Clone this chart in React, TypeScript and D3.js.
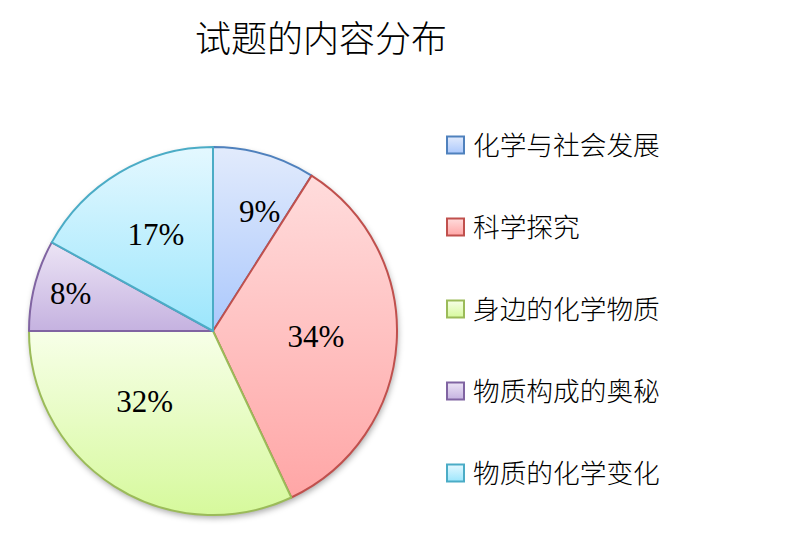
import React from "react";
import * as d3 from "d3";

const categories = ["化学与社会发展", "科学探究", "身边的化学物质", "物质构成的奥秘", "物质的化学变化"];
const values = [9, 34, 32, 8, 17];
const labels = ["9%", "34%", "32%", "8%", "17%"];
const title = "试题的内容分布";

const strokeColors = ["#4f81bd", "#c0504d", "#9bbb59", "#8064a2", "#4bacc6"];
const gradTop = ["#e2ebfc", "#ffdcdc", "#f7ffe8", "#ece4f5", "#e4f8ff"];
const gradBottom = ["#abc8fc", "#ffa6a6", "#d6f99c", "#c5b2e0", "#9ce6fc"];
// layout: label placement radius factors (of pie radius) and angle shifts (deg)
const labelRadiusFactor = [0.7, 0.56, 0.53, 0.8, 0.61];
const labelAngleShift = [5, -0.5, 12, 0.5, 0];

const W = 798;
const H = 541;
const cx = 213;
const cy = 331;
const R = 184;

export default function App() {
  const pie = d3.pie<number>().sort(null).value((d) => d);
  const arcs = pie(values);
  const arcGen = d3.arc<d3.PieArcDatum<number>>().innerRadius(0).outerRadius(R);

  const legendY = d3.scalePoint<string>().domain(categories).range([145, 473]);

  return (
    <svg width={W} height={H} style={{ position: "absolute", left: 0, top: 0 }}>
      <defs>
        {arcs.map((_, i) => (
          <linearGradient key={i} id={`g${i}`} x1="0" y1="0" x2="0" y2="1">
            <stop offset="0" stopColor={gradTop[i]} />
            <stop offset="1" stopColor={gradBottom[i]} />
          </linearGradient>
        ))}
        <filter id="shadow" x="-20%" y="-20%" width="140%" height="140%">
          <feDropShadow dx="1" dy="3" stdDeviation="3" floodColor="#000" floodOpacity="0.35" />
        </filter>
      </defs>
      <rect width={W} height={H} fill="#fff" />
      <text
        x={321}
        y={52}
        textAnchor="middle"
        fontFamily="'Noto Sans CJK SC', sans-serif"
        fontSize={36}
        fontWeight={300}
        fill="#000"
      >
        {title}
      </text>
      <g transform={`translate(${cx},${cy})`}>
        <circle r={R} fill="#fff" filter="url(#shadow)" />
        {arcs.map((a, i) => (
          <path
            key={i}
            d={arcGen(a) || ""}
            fill={`url(#g${i})`}
            stroke={strokeColors[i]}
            strokeWidth={2}
            strokeLinejoin="round"
          />
        ))}
        {arcs.map((a, i) => {
          const mid = (a.startAngle + a.endAngle) / 2 + (labelAngleShift[i] * Math.PI) / 180;
          const r = R * labelRadiusFactor[i];
          const x = Math.sin(mid) * r;
          const y = -Math.cos(mid) * r;
          return (
            <text
              key={i}
              x={x}
              y={y}
              dy="0.35em"
              textAnchor="middle"
              fontFamily="'Liberation Serif', 'Times New Roman', serif"
              fontSize={31}
              fill="#000"
            >
              {labels[i]}
            </text>
          );
        })}
      </g>
      <g>
        {categories.map((c, i) => {
          const y = legendY(c) as number;
          return (
            <g key={c}>
              <rect
                x={447}
                y={y - 8.5}
                width={17}
                height={17}
                fill={`url(#g${i})`}
                stroke={strokeColors[i]}
                strokeWidth={2}
              />
              <text
                x={473}
                y={y}
                dy="0.36em"
                fontFamily="'Noto Sans CJK SC', sans-serif"
                fontSize={26.7}
                fontWeight={300}
                fill="#000"
              >
                {c}
              </text>
            </g>
          );
        })}
      </g>
    </svg>
  );
}
